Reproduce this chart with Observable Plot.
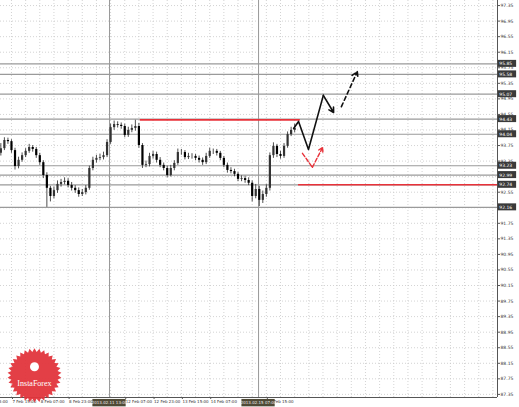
<!DOCTYPE html>
<html><head><meta charset="utf-8">
<script src="https://cdn.jsdelivr.net/npm/d3@7"></script>
<script src="https://cdn.jsdelivr.net/npm/@observablehq/plot@0.6"></script>
<style>body{margin:0;background:#fff}</style>
</head><body><div id="chart"></div>
<script>
// H2 bars, index 1..84
const open=[93.55,93.67,93.88,93.85,93.62,93.21,93.37,93.49,93.60,93.70,
93.65,93.49,93.31,92.98,92.65,92.44,92.59,92.75,92.80,92.83,
92.72,92.65,92.59,92.49,92.54,92.65,93.16,93.37,93.42,93.44,
93.49,93.83,94.21,94.29,94.27,94.24,94.01,94.14,94.19,94.24,
93.75,93.24,93.26,93.47,93.52,93.37,93.24,93.16,92.98,93.16,
93.29,93.57,93.57,93.44,93.47,93.47,93.42,93.37,93.31,93.47,
93.60,93.60,93.55,93.42,93.24,93.11,93.08,93.01,92.88,92.90,
92.85,92.78,92.44,92.62,92.34,92.49,92.65,93.49,93.73,93.52,
93.47,93.73,94.03,94.14];
const high=[93.80,93.95,93.94,93.90,93.68,93.45,93.56,93.67,93.78,93.75,
93.70,93.55,93.36,93.05,92.70,92.68,92.84,92.88,92.92,92.90,
92.80,92.72,92.66,92.62,92.72,93.22,93.45,93.50,93.53,93.58,
93.90,94.30,94.38,94.36,94.33,94.30,94.22,94.28,94.40,94.32,
93.80,93.35,93.55,93.60,93.58,93.44,93.30,93.22,93.24,93.36,
93.66,93.65,93.62,93.55,93.54,93.52,93.48,93.43,93.55,93.68,
93.66,93.65,93.60,93.47,93.30,93.18,93.14,93.06,92.97,92.96,
92.92,92.84,92.75,92.70,92.58,92.74,93.56,93.82,93.78,93.60,
93.80,94.10,94.22,94.30];
const low=[93.48,93.62,93.78,93.55,93.12,93.15,93.32,93.44,93.55,93.58,
93.42,93.24,92.90,92.16,92.30,92.38,92.52,92.68,92.74,92.66,
92.58,92.52,92.42,92.44,92.48,92.60,93.10,93.30,93.36,93.38,
93.44,93.78,94.14,94.20,94.17,93.95,93.96,94.08,94.12,93.68,
93.16,93.18,93.20,93.40,93.30,93.18,93.10,92.92,92.94,93.10,
93.24,93.50,93.38,93.39,93.40,93.36,93.30,93.24,93.26,93.42,
93.52,93.48,93.36,93.18,93.04,93.02,92.95,92.82,92.82,92.78,
92.72,92.30,92.38,92.18,92.26,92.42,92.58,93.42,93.44,93.40,
93.42,93.68,93.98,94.08];
const close=[93.67,93.88,93.85,93.62,93.21,93.37,93.49,93.60,93.70,93.65,
93.49,93.31,92.98,92.65,92.44,92.59,92.75,92.80,92.83,92.72,
92.65,92.59,92.49,92.54,92.65,93.16,93.37,93.42,93.44,93.49,
93.83,94.21,94.29,94.27,94.24,94.01,94.14,94.19,94.24,93.75,
93.24,93.26,93.47,93.52,93.37,93.24,93.16,92.98,93.16,93.29,
93.57,93.57,93.44,93.47,93.47,93.42,93.37,93.31,93.47,93.60,
93.60,93.55,93.42,93.24,93.11,93.08,93.01,92.88,92.90,92.85,
92.78,92.44,92.62,92.34,92.49,92.65,93.49,93.73,93.52,93.47,
93.73,94.03,94.14,94.19];

const levels=[95.85,95.58,95.07,94.43,94.04,93.23,92.99,92.74,92.16];
const priceTicks=[97.35,96.95,96.55,96.15,95.75,95.35,94.95,94.55,94.15,93.75,93.35,92.95,92.55,92.15,91.75,91.35,90.95,90.55,90.15,89.75,89.35,88.95,88.55,88.15,87.75,87.35];
const timeTicks=[-4,4,12,20,28,36,44,52,60,68,76];
const timeLabels=["6 Feb 23:00","7 Feb 15:00","8 Feb 07:00","8 Feb 23:00","11 Feb 15:00","12 Feb 07:00","12 Feb 23:00","13 Feb 15:00","14 Feb 07:00","14 Feb 23:00","15 Feb 15:00"];
const separators=[31.7,73.8];
const separatorLabels=["2013.02.11 13:00","2013.02.15 07:00"];
const resistance={x1:40.4,x2:85.6,y:94.41};
const support={x1:85.1,x2:141.3,y:92.74};
const blackPath=[{x:83.7,y:94.19},{x:85.1,y:94.37},{x:87.9,y:93.65},{x:92.1,y:95.04}];
const blackArrow=[{x1:92.1,y1:95.04,x2:95.0,y2:94.60}];
const blackDashArrow=[{x1:97.2,y1:94.75,x2:101.7,y2:95.65}];
const redPath=[{x:86.2,y:93.55},{x:89.0,y:93.19}];
const redArrow=[{x1:89.0,y1:93.19,x2:91.9,y2:93.70}];
const logo=[{x:10.5,y:87.84,name:"InstaForex"}];

const bars=close.map((c,i)=>({i:i+1,o:open[i],h:high[i],l:low[i],c}));
const X0=0.9, X1=141.3, Y0=87.27, Y1=97.48;
const labelMap=new Map(timeTicks.map((t,i)=>[t,timeLabels[i]]));
const sepData=separators.map((s,i)=>({x:s,label:separatorLabels[i]}));
// labels hidden behind the boxes in the reference are not drawn
const shownPriceTicks=priceTicks.filter(t=>levels.every(l=>Math.abs(l-t)>0.08));
const shownTimeTicks=timeTicks.filter(t=>separators.every(s=>!(s-t>0&&s-t<7)));

const burst={draw(ctx,size){const R=Math.sqrt(size/Math.PI);const n=34;
  for(let k=0;k<2*n;k++){const a=k*Math.PI/n;const r=k%2?R*0.87:R;const x=r*Math.sin(a),y=-r*Math.cos(a);k?ctx.lineTo(x,y):ctx.moveTo(x,y);}ctx.closePath();}};

const red="#e8323a";
const chart=Plot.plot({
  width:519,height:407,marginLeft:0,marginRight:22,marginTop:0,marginBottom:10,
  style:{fontFamily:"DejaVu Sans",background:"#fff",overflow:"hidden"},
  x:{domain:[X0,X1],axis:null},
  y:{domain:[Y0,Y1],axis:null},
  marks:[
    Plot.ruleY(priceTicks,{stroke:"#c8c8c8",strokeDasharray:"1,2",strokeWidth:0.8}),
    Plot.ruleX(d3.range(0,141,4),{stroke:"#c8c8c8",strokeDasharray:"1,2",strokeWidth:0.8}),
    Plot.ruleY(levels,{stroke:"#9a9a9a",strokeWidth:1.2}),
    Plot.ruleX(separators,{stroke:"#999",strokeWidth:1}),
    Plot.ruleY([resistance],{x1:"x1",x2:"x2",y:"y",stroke:red,strokeWidth:1.6}),
    Plot.ruleY([support],{x1:"x1",x2:"x2",y:"y",stroke:red,strokeWidth:1.6}),
    Plot.ruleX(bars,{x:"i",y1:"l",y2:"h",stroke:"#222",strokeWidth:0.8}),
    Plot.ruleX(bars,{x:"i",y1:"o",y2:"c",stroke:d=>d.c>=d.o?"#333":"#000",strokeWidth:2.2}),
    Plot.line(blackPath,{x:"x",y:"y",stroke:"#111",strokeWidth:1.6}),
    Plot.arrow(blackArrow,{x1:"x1",y1:"y1",x2:"x2",y2:"y2",stroke:"#111",strokeWidth:1.6,headLength:5}),
    Plot.arrow(blackDashArrow,{x1:"x1",y1:"y1",x2:"x2",y2:"y2",stroke:"#111",strokeWidth:1.6,headLength:6,strokeDasharray:"4,3"}),
    Plot.line(redPath,{x:"x",y:"y",stroke:red,strokeWidth:1.4,strokeDasharray:"4,2"}),
    Plot.arrow(redArrow,{x1:"x1",y1:"y1",x2:"x2",y2:"y2",stroke:red,strokeWidth:1.4,headLength:5,strokeDasharray:"4,2"}),
    Plot.ruleX([X1],{stroke:"#555",strokeWidth:1}),
    Plot.ruleY([Y0],{stroke:"#555",strokeWidth:1}),
    Plot.axisY({anchor:"right",ticks:shownPriceTicks,tickFormat:d=>d.toFixed(2),tickSize:2,tickPadding:1,fontSize:4.5,fill:"#333",stroke:"#555"}),
    Plot.axisX({anchor:"bottom",ticks:shownTimeTicks,tickFormat:d=>labelMap.get(d),textAnchor:"start",dx:1,tickSize:2,tickPadding:1,fontSize:4,fill:"#333",stroke:"#555"}),
    Plot.rect(levels,{x1:()=>X1+0.2,x2:()=>X1+5.4,y1:d=>d-0.09,y2:d=>d+0.09,fill:"#3a3a3a",clip:false}),
    Plot.text(levels,{x:()=>X1+0.5,y:d=>d,text:d=>d.toFixed(2),textAnchor:"start",fill:"#fff",fontSize:4.5,clip:false}),
    Plot.rect(sepData,{x1:d=>d.x-4.7,x2:d=>d.x+4.7,y1:()=>Y0-0.05,y2:()=>Y0-0.24,fill:"#4f4a36",clip:false}),
    Plot.text(sepData,{x:"x",y:()=>Y0-0.145,text:"label",fill:"#eee",fontSize:4,clip:false}),
    Plot.dot(logo,{x:"x",y:"y",r:27,symbol:burst,fill:"#e2353c",fillOpacity:0.95,clip:false}),
    Plot.dot(logo,{x:"x",y:d=>d.y+0.22,r:4.5,fill:"#fff"}),
    Plot.text(logo,{x:"x",y:d=>d.y-0.2,text:"name",fill:"#fff",fontSize:8,fontFamily:"Liberation Serif"})
  ]
});
document.getElementById("chart").appendChild(chart);
</script></body></html>
